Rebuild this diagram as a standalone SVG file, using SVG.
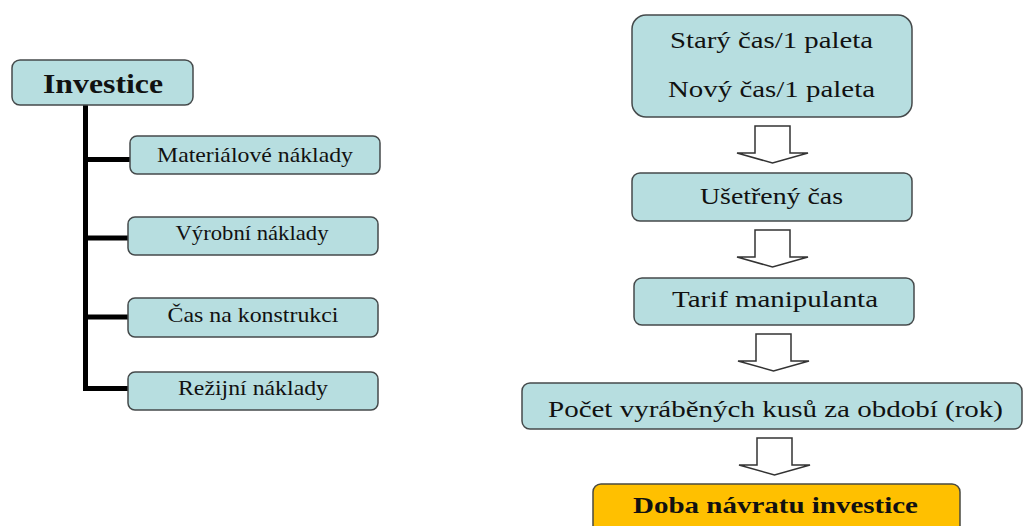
<svg xmlns="http://www.w3.org/2000/svg" width="1023" height="526" viewBox="0 0 1023 526">
<defs>
<style>
.box{fill:#B7DEE0;stroke:#454a4b;stroke-width:1.5}
.gold{fill:#FFC000;stroke:#4a4a40;stroke-width:1.5}
.t{font-family:'Liberation Serif','Times New Roman','DejaVu Serif',serif;fill:#111;text-anchor:middle}
.s{font-size:21px}
.m{font-size:23px}
.b{font-weight:bold}
.tree{fill:none;stroke:#000;stroke-width:5}
.arr{fill:#fff;stroke:#333;stroke-width:1.5;stroke-linejoin:miter}
</style>
<path id="ba" d="M-17.5,0 H17.5 V27 H35.5 L0,37 L-35.5,27 H-17.5 Z"/>
</defs>
<rect width="1023" height="526" fill="#fff"/>
<g id="connectors">
<path class="tree" d="M85.5,105 V390.5 M85.5,159.5 H130 M85.5,238 H128 M85.5,317 H128 M83,388.5 H128"/>
<use href="#ba" class="arr" x="772.5" y="126"/>
<use href="#ba" class="arr" x="772.5" y="230"/>
<use href="#ba" class="arr" x="773.5" y="334"/>
<use href="#ba" class="arr" x="774.5" y="438"/>
</g>
<g id="investice">
<rect class="box" x="12" y="60" width="181" height="45" rx="8"/>
<text class="t b" x="103" y="93" font-size="28" textLength="120" lengthAdjust="spacingAndGlyphs">Investice</text>
</g>
<g id="materialove">
<rect class="box" x="130" y="136" width="250" height="38" rx="7"/>
<text class="t s" x="255" y="162" textLength="196" lengthAdjust="spacingAndGlyphs">Materiálové náklady</text>
</g>
<g id="vyrobni">
<rect class="box" x="128" y="217" width="250" height="38" rx="7"/>
<text class="t s" x="252" y="240" textLength="153" lengthAdjust="spacingAndGlyphs">Výrobní náklady</text>
</g>
<g id="cas">
<rect class="box" x="128" y="298" width="250" height="39" rx="7"/>
<text class="t s" x="253" y="322" textLength="171" lengthAdjust="spacingAndGlyphs">Čas na konstrukci</text>
</g>
<g id="rezijni">
<rect class="box" x="128" y="372" width="250" height="38" rx="7"/>
<text class="t s" x="253" y="395" textLength="150" lengthAdjust="spacingAndGlyphs">Režijní náklady</text>
</g>
<g id="stary-novy">
<rect class="box" x="632" y="15" width="280" height="102" rx="14"/>
<text class="t m" x="771.5" y="48" textLength="203" lengthAdjust="spacingAndGlyphs">Starý čas/1 paleta</text>
<text class="t m" x="771.5" y="97" textLength="207" lengthAdjust="spacingAndGlyphs">Nový čas/1 paleta</text>
</g>
<g id="usetreny">
<rect class="box" x="632" y="173" width="280" height="48" rx="8"/>
<text class="t m" x="771.5" y="204" textLength="143" lengthAdjust="spacingAndGlyphs">Ušetřený čas</text>
</g>
<g id="tarif">
<rect class="box" x="634" y="278" width="280" height="47" rx="8"/>
<text class="t m" x="775" y="307" textLength="206" lengthAdjust="spacingAndGlyphs">Tarif manipulanta</text>
</g>
<g id="pocet">
<rect class="box" x="522" y="383" width="500" height="46" rx="8"/>
<text class="t m" x="775.5" y="417" textLength="455" lengthAdjust="spacingAndGlyphs">Počet vyráběných kusů za období (rok)</text>
</g>
<g id="doba">
<rect class="gold" x="593" y="484" width="367" height="60" rx="8"/>
<text class="t m b" x="775.5" y="513" textLength="285" lengthAdjust="spacingAndGlyphs">Doba návratu investice</text>
</g>
</svg>
